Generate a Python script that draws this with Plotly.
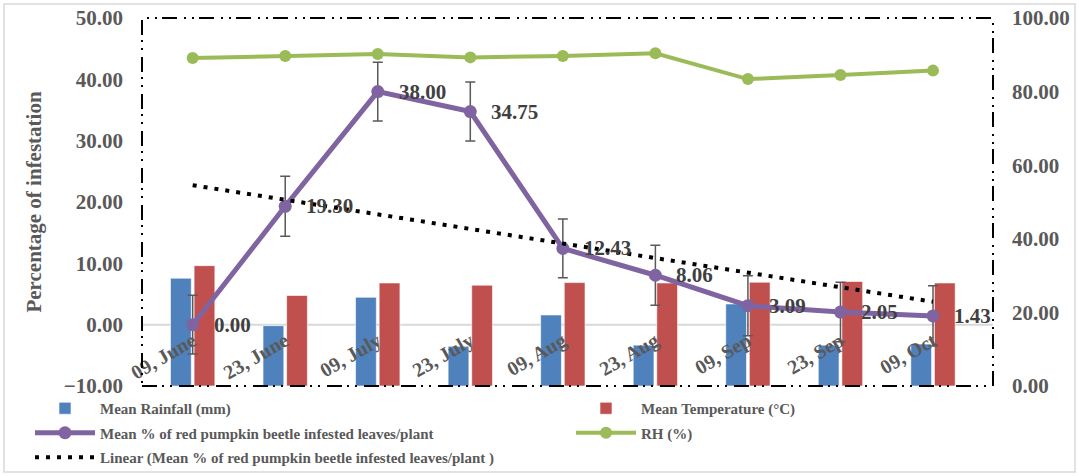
import numpy as np
import plotly.graph_objects as go

# Sampling dates (categories)
dates = ["09, June", "23, June", "09, July", "23, July", "09, Aug",
         "23, Aug", "09, Sep", "23, Sep", "09, Oct"]

# Weather series (secondary scale, 0-100)
rainfall = [29.3, 16.4, 24.1, 10.8, 19.3, 11.1, 22.3, 11.1, 11.4]
temperature = [32.7, 24.6, 28.0, 27.4, 28.1, 28.0, 28.2, 28.4, 28.0]
rh = [89.1, 89.7, 90.2, 89.3, 89.7, 90.4, 83.4, 84.5, 85.7]

# Mean % of red pumpkin beetle infested leaves/plant and its error
infestation = [0.00, 19.30, 38.00, 34.75, 12.43, 8.06, 3.09, 2.05, 1.43]
infestation_err = [4.8, 4.9, 4.8, 4.8, 4.8, 4.9, 4.9, 4.85, 4.9]

left_ticks = [-10, 0, 10, 20, 30, 40, 50]
right_ticks = [0, 20, 40, 60, 80, 100]

# Linear trendline fitted over the sampling sequence
idx = np.arange(1, len(infestation) + 1)
slope, intercept = np.polyfit(idx, infestation, 1)
trend = slope * idx + intercept

SERIF = "Liberation Serif, Times New Roman, serif"
GREY = "#595959"
LBL = "#404040"


def bold(size, color=GREY):
    return dict(family=SERIF, size=size, color=color, weight="bold")


fig = go.Figure()

fig.add_trace(go.Bar(
    x=dates, y=rainfall, name="Mean Rainfall (mm)", yaxis="y",
    legend="legend", legendgroup="rain",
    marker=dict(color="#4F81BD", line=dict(color="rgba(255,255,255,0.6)", width=1)),
))
fig.add_trace(go.Bar(
    x=dates, y=temperature, name="Mean Temperature (°C)", yaxis="y",
    legend="legend2", legendgroup="temp",
    marker=dict(color="#C0504D", line=dict(color="rgba(255,255,255,0.6)", width=1)),
))
fig.add_trace(go.Scatter(
    x=dates, y=infestation, yaxis="y2", mode="lines+markers",
    name="Mean % of red pumpkin beetle infested leaves/plant",
    legend="legend", legendgroup="rpb",
    line=dict(color="#8064A2", width=5),
    marker=dict(color="#8064A2", size=13),
    error_y=dict(type="data", array=infestation_err, color=GREY, thickness=1.5, width=5),
))
fig.add_trace(go.Scatter(
    x=dates, y=rh, yaxis="y", mode="lines+markers", name="RH (%)",
    legend="legend2", legendgroup="rh",
    line=dict(color="#9BBB59", width=4),
    marker=dict(color="#9BBB59", size=12),
))
fig.add_trace(go.Scatter(
    x=dates, y=trend, yaxis="y2", mode="lines",
    name="Linear (Mean % of red pumpkin beetle infested leaves/plant )",
    legend="legend", legendgroup="trend",
    line=dict(color="black", width=4, dash="4px,7px"),
))

# value labels beside each infestation point
for d, v in zip(dates, infestation):
    fig.add_annotation(
        x=d, y=v, xref="x", yref="y2", text=f"{v:.2f}",
        showarrow=False, xanchor="left", yanchor="middle", xshift=19,
        font=bold(21, LBL),
    )

# zero reference line of the infestation scale, behind the bars
fig.add_shape(type="line", xref="paper", yref="y2", x0=0, x1=1, y0=0, y1=0,
              line=dict(color="#D9D9D9", width=2), layer="below")

# dash-dot frame around the plot area
fig.add_shape(type="rect", xref="paper", yref="paper", x0=0, x1=1, y0=0, y1=1,
              line=dict(color="black", width=2, dash="15px,5px,2px,6px,2px,7px"),
              layer="above")

# light chart border
W, H = 1079, 476
ML, MR, MT, MB = 142, 86, 18, 90
pw, ph = W - ML - MR, H - MT - MB
fig.add_shape(type="rect", xref="paper", yref="paper",
              x0=(4 - ML) / pw, x1=(W - 4 - ML) / pw,
              y0=(H - MB - 472) / ph, y1=(H - MB - 4) / ph,
              line=dict(color="#D9D9D9", width=1.5), layer="below")

legend_style = dict(
    orientation="v", xanchor="left",
    yref="container", y=(H - 392) / H, yanchor="top",
    itemwidth=60, font=bold(15), tracegroupgap=2,
    traceorder="grouped", bgcolor="rgba(0,0,0,0)",
)

fig.update_layout(
    width=W, height=H,
    margin=dict(l=ML, r=MR, t=MT, b=MB),
    paper_bgcolor="white", plot_bgcolor="white",
    barmode="group", bargap=0.49, bargroupgap=0.12,
    font=dict(family=SERIF, color=GREY),
    xaxis=dict(
        type="category", anchor="free",
        position=(0 - left_ticks[0]) / (left_ticks[-1] - left_ticks[0]),
        showline=False, showgrid=False, ticks="", tickangle=-30,
        tickfont=bold(20), automargin=False,
    ),
    yaxis=dict(
        side="right", range=[right_ticks[0], right_ticks[-1]],
        tickvals=right_ticks, tickformat=".2f",
        showgrid=False, zeroline=False, showline=False, ticks="",
        ticklabelstandoff=18, automargin=False,
        tickfont=bold(21),
    ),
    yaxis2=dict(
        overlaying="y", side="left",
        range=[left_ticks[0], left_ticks[-1]],
        tickvals=left_ticks, tickformat=".2f",
        showgrid=False, zeroline=False, showline=False, ticks="",
        ticklabelstandoff=18, automargin=False,
        tickfont=bold(21),
        title=dict(text="Percentage of infestation", standoff=16, font=bold(21)),
    ),
    legend=dict(x=(30 - ML) / pw, **legend_style),
    legend2=dict(x=(571 - ML) / pw, **legend_style),
)

fig.write_html("out.html")
